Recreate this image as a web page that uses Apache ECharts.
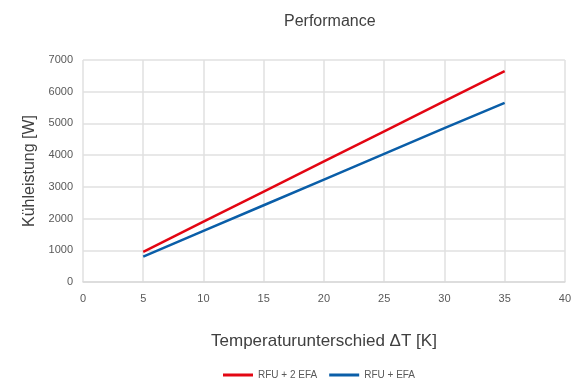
<!DOCTYPE html>
<html>
<head>
<meta charset="utf-8">
<script src="https://cdn.jsdelivr.net/npm/echarts@6/dist/echarts.min.js"></script>
<style>html,body{margin:0;padding:0;background:#fff}#c{width:574px;height:383px}</style>
</head>
<body>
<div id="c"></div>
<script>
const xValues = [5, 10, 15, 20, 25, 30, 35];
const redValues = [950, 1900, 2850, 3800, 4750, 5700, 6650];
const blueValues = [800, 1610, 2420, 3230, 4040, 4850, 5650];
const seriesNames = ['RFU + 2 EFA', 'RFU + EFA'];
const titleText = 'Performance';
const xName = 'Temperaturunterschied \u0394T [K]';
const yName = 'K\u00fchleistung [W]';

const font = 'Liberation Sans, Arial, sans-serif';
const chart = echarts.init(document.getElementById('c'), null, {renderer: 'canvas'});
chart.setOption({
  animation: false,
  backgroundColor: '#fff',
  title: {text: titleText, left: 279, top: 9,
    textStyle: {fontFamily: font, fontSize: 16, fontWeight: 'normal', color: '#404040'}},
  grid: {left: 83, right: 8, top: 60, bottom: 101, containLabel: false},
  legend: {
    left: 218, top: 365, itemWidth: 30, itemHeight: 3, icon: 'rect', itemGap: 12,
    textStyle: {fontFamily: font, fontSize: 10, color: '#595959'},
    data: seriesNames
  },
  xAxis: {
    type: 'value', min: 0, max: 40, interval: 5,
    name: xName, nameLocation: 'middle', nameGap: 51,
    nameTextStyle: {fontFamily: font, fontSize: 17, color: '#404040'},
    axisLine: {show: true, lineStyle: {color: '#d9d9d9', width: 1.5}},
    axisTick: {show: false},
    axisLabel: {fontFamily: font, fontSize: 11, color: '#595959', margin: 11},
    splitLine: {show: true, lineStyle: {color: '#e0e0e0', width: 1.5}}
  },
  yAxis: {
    type: 'value', min: 0, max: 7000, interval: 1000,
    name: yName, nameLocation: 'middle', nameGap: 45,
    nameTextStyle: {fontFamily: font, fontSize: 16, color: '#404040'},
    axisLine: {show: false},
    axisTick: {show: false},
    axisLabel: {fontFamily: font, fontSize: 11, color: '#595959', margin: 10,
      formatter: v => String(v)},
    splitLine: {show: true, lineStyle: {color: '#e0e0e0', width: 1.5}}
  },
  series: [
    {name: seriesNames[0], type: 'line', showSymbol: false, symbol: 'none',
     data: xValues.map((x, i) => [x, redValues[i]]),
     lineStyle: {color: '#e30613', width: 2.5}, itemStyle: {color: '#e30613'}},
    {name: seriesNames[1], type: 'line', showSymbol: false, symbol: 'none',
     data: xValues.map((x, i) => [x, blueValues[i]]),
     lineStyle: {color: '#0a5ea8', width: 2.5}, itemStyle: {color: '#0a5ea8'}}
  ]
});
</script>
</body>
</html>
